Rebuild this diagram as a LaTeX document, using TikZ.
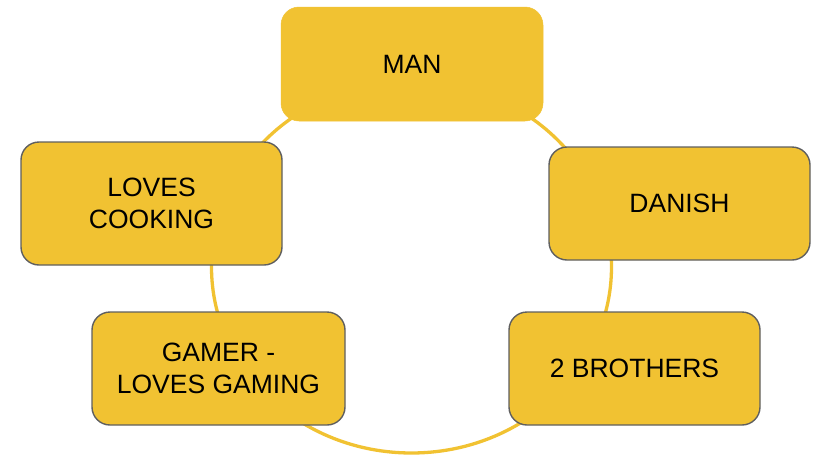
\documentclass[tikz,border=0pt]{standalone}
\usepackage{fontspec}
\setmainfont{Liberation Sans}
\definecolor{boxyellow}{HTML}{F1C232}
\definecolor{boxedge}{HTML}{5F5F5F}
\begin{document}
\begin{tikzpicture}[x=1pt,y=-1pt,
  card/.style={rectangle, rounded corners=18pt, fill=boxyellow,
    draw=boxedge, line width=1.4pt, align=center, inner sep=0pt,
    font=\fontsize{26.5}{32.5}\selectfont, text=black},
  ring/.style={draw=boxyellow, line width=3.3pt}]
\useasboundingbox (0,0) rectangle (815,456);
% ring behind the cards
\draw[ring] (411.5,267) ellipse [x radius=200pt, y radius=186pt];
% cards
\node[card, draw=boxyellow, line width=0.5pt, minimum width=262pt, minimum height=114pt] (man) at (412,64) {MAN};
\node[card, minimum width=261pt, minimum height=123pt] (cooking) at (151.5,203.5) {LOVES\\COOKING};
\node[card, minimum width=261pt, minimum height=113pt] (danish) at (679.5,203.5) {DANISH};
\node[card, minimum width=253pt, minimum height=113pt] (gamer) at (218.5,368.5) {GAMER -\\LOVES GAMING};
\node[card, minimum width=251pt, minimum height=113pt] (brothers) at (634.5,368.5) {2 BROTHERS};
\end{tikzpicture}
\end{document}
